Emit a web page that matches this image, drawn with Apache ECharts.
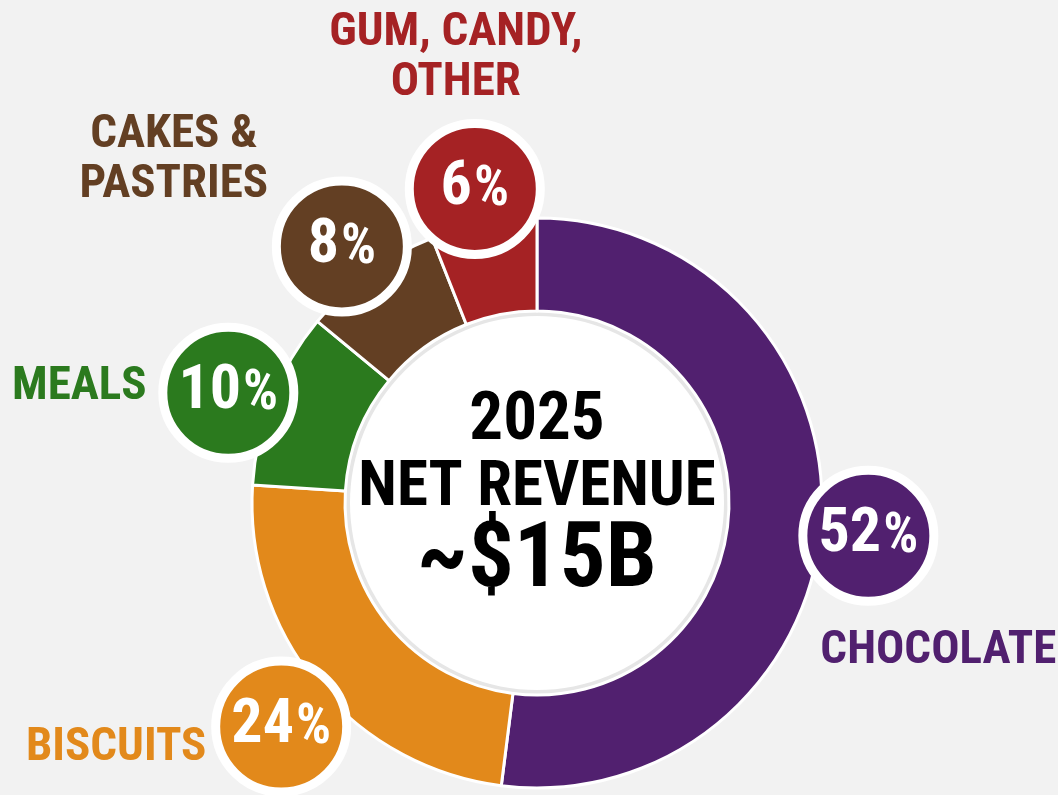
<!DOCTYPE html>
<html>
<head>
<meta charset="utf-8">
<script src="https://cdn.jsdelivr.net/npm/echarts@6/dist/echarts.min.js"></script>
<style>
  html, body { margin: 0; padding: 0; background: #f2f2f2; }
  #chart { width: 1058px; height: 795px; }
</style>
</head>
<body>
<div id="chart"></div>
<script>
// Revenue split by category (share of net revenue, %)
const categories = ['CHOCOLATE', 'BISCUITS', 'MEALS', 'CAKES &\nPASTRIES', 'GUM, CANDY,\nOTHER'];
const shares = [52, 24, 10, 8, 6];
const colors = ['#51206f', '#e2891b', '#2b7a1e', '#633f23', '#a52224'];
const centerLines = ['2025', 'NET REVENUE', '~$15B'];

const FONT = "'Noto Sans Condensed', 'Noto Sans ExtraCondensed', 'Roboto Condensed', 'DejaVu Sans Condensed', sans-serif";

// Where each category name sits relative to its bubble
const nameOffsets = [[70, 115], [-165, 22], [-149, -6], [-168, -86], [-19, -131]];

const total = shares.reduce((a, b) => a + b, 0);
let acc = 0;
const midPoints = shares.map(v => { const m = acc + v / 2; acc += v; return m; });

const chart = echarts.init(document.getElementById('chart'), null, { renderer: 'canvas' });

chart.setOption({
  backgroundColor: '#f2f2f2',
  animation: false,
  polar: { center: [537, 515], radius: 332 },
  angleAxis: { type: 'value', min: 0, max: total, startAngle: 90, clockwise: true, show: false },
  radiusAxis: { type: 'value', min: 0, max: 1, show: false },
  series: [
    // light grey rim of the centre disc
    {
      type: 'pie', silent: true, center: [537, 503], radius: [0, 191],
      label: { show: false }, labelLine: { show: false },
      itemStyle: { color: '#e6e6e6' }, data: [{ value: 1 }], z: 1
    },
    // white centre disc
    {
      type: 'pie', silent: true, center: [537, 503], radius: [0, 187],
      label: { show: false }, labelLine: { show: false },
      itemStyle: { color: '#ffffff' }, data: [{ value: 1 }], z: 1
    },
    // the donut ring
    {
      type: 'pie', silent: true, center: [537, 503], radius: [192, 285],
      startAngle: 90, clockwise: true,
      label: { show: false }, labelLine: { show: false },
      itemStyle: { borderColor: '#ffffff', borderWidth: 3 },
      data: shares.map((v, i) => ({ name: categories[i], value: v, itemStyle: { color: colors[i] } })),
      z: 2
    },
    // percentage bubbles
    {
      type: 'scatter', coordinateSystem: 'polar', silent: true, z: 5,
      symbol: 'circle', symbolSize: 131,
      data: shares.map((v, i) => ({
        value: [1, midPoints[i]],
        itemStyle: { color: colors[i], opacity: 1, borderColor: '#ffffff', borderWidth: 9 },
        label: {
          show: true, position: 'inside',
          formatter: '{n|' + v + '}{p|%}',
          rich: {
            n: { fontSize: 62, fontWeight: 'bold', fontFamily: FONT, color: '#ffffff', verticalAlign: 'bottom', lineHeight: 62 },
            p: { fontSize: 55, fontWeight: 'bold', fontFamily: FONT, color: '#ffffff', verticalAlign: 'bottom', lineHeight: 62, padding: [0, 0, 1, 2] }
          }
        }
      }))
    },
    // category names
    {
      type: 'scatter', coordinateSystem: 'polar', silent: true, z: 6,
      symbol: 'circle', symbolSize: 1,
      itemStyle: { color: 'rgba(0,0,0,0)', opacity: 1 },
      data: shares.map((v, i) => ({
        value: [1, midPoints[i]],
        label: {
          show: true, position: 'inside', offset: nameOffsets[i],
          formatter: categories[i], align: 'center', verticalAlign: 'middle',
          fontSize: 47, lineHeight: 50, fontWeight: 'bold', fontFamily: FONT, color: colors[i]
        }
      }))
    }
  ],
  graphic: centerLines.map((t, i) => ({
    type: 'text', x: 537, y: [422, 489, 563][i], z: 100, silent: true,
    style: {
      text: t, align: 'center', verticalAlign: 'middle',
      fontSize: [67, 63, 91][i], fontWeight: 'bold', fontFamily: FONT, fill: '#000000'
    }
  }))
});
</script>
</body>
</html>
